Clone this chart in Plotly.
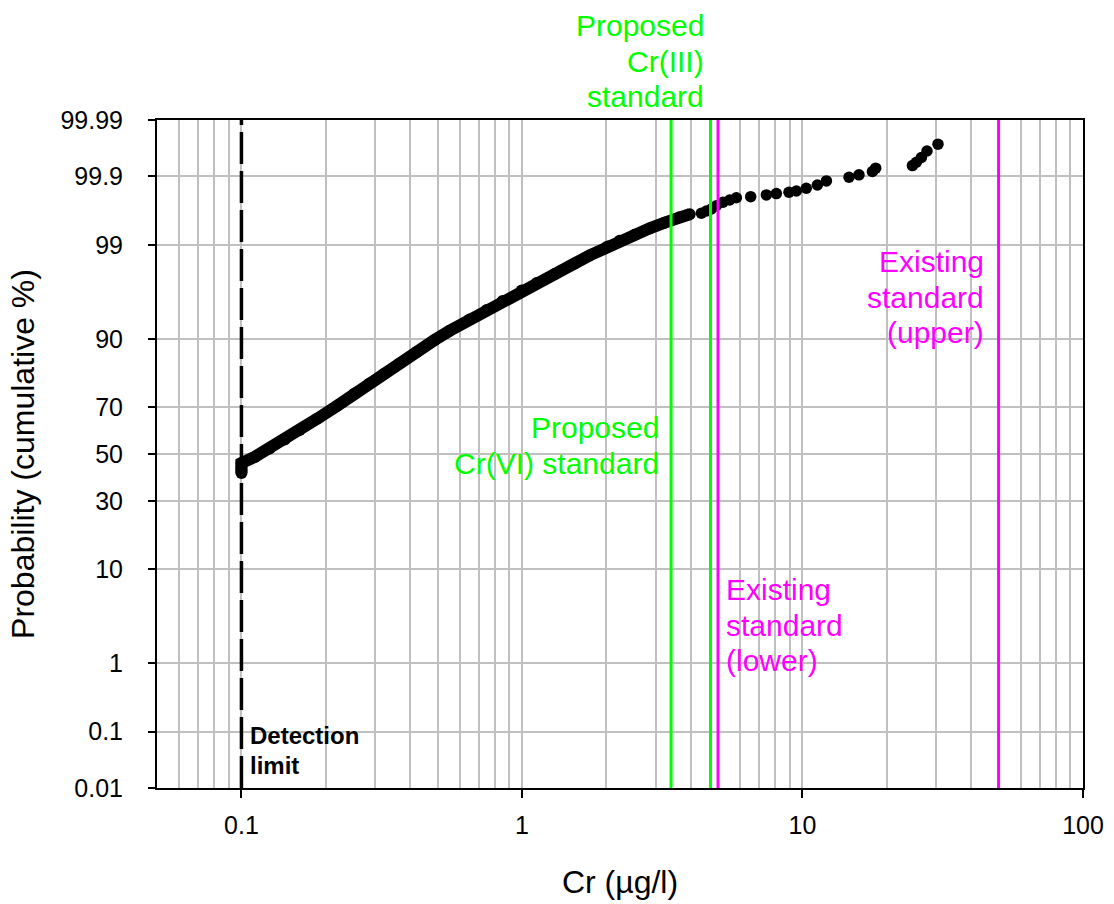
import math
from statistics import NormalDist
import plotly.graph_objects as go

_nd = NormalDist()


def probit(pct):
    """Cumulative percentage -> standard normal quantile (probability-paper scale)."""
    return _nd.inv_cdf(pct / 100.0)


# Chromium concentrations (µg/l) and cumulative probability (%) - continuous part of the record,
# starting with the stack of values reported at the detection limit
dense_cr = [0.1, 0.1, 0.1, 0.1, 0.1115, 0.126, 0.1426, 0.1612, 0.1869, 0.2185, 0.2533, 0.2865,
            0.324, 0.3664, 0.4213, 0.4884, 0.5524, 0.6512, 0.7484, 0.8535, 0.9975, 1.128, 1.308,
            1.542, 1.743, 2.021, 2.23, 2.522, 2.853, 3.227, 3.649, 3.962]
dense_pct = [41.6, 42.9, 44.2, 46.0, 48.7, 52.4, 56.4, 60.5, 65.4, 70.3, 75.0, 78.4,
             81.5, 84.3, 87.2, 89.8, 91.5, 93.3, 94.56, 95.58, 96.57, 97.16, 97.75,
             98.31, 98.65, 98.96, 99.12, 99.27, 99.40, 99.50, 99.58, 99.62]

# Upper tail: individual high results
tail_cr = [4.36, 4.544, 4.733, 4.932, 5.207, 5.502, 5.812, 6.537, 7.435, 8.07, 8.95, 9.51,
           10.32, 11.3, 12.17, 14.65, 15.9, 17.75, 18.24, 24.65, 25.47, 26.54, 27.79, 30.41]
tail_pct = [99.632, 99.659, 99.682, 99.715, 99.747, 99.766, 99.784, 99.792, 99.804, 99.813,
            99.822, 99.83, 99.846, 99.863, 99.882, 99.897, 99.906, 99.917, 99.927, 99.934,
            99.942, 99.952, 99.963, 99.972]

# Water-quality standards (µg/l)
detection_limit = 0.1
cr6_proposed = 3.4
cr3_proposed = 4.7
existing_lower = 5
existing_upper = 50

# Probability-paper tick marks
prob_ticks = [0.01, 0.1, 1, 10, 30, 50, 70, 90, 99, 99.9, 99.99]
prob_labels = ["0.01", "0.1", "1", "10", "30", "50", "70", "90", "99", "99.9", "99.99"]

x_major = [0.1, 1, 10, 100]
x_major_labels = ["0.1", "1", "10", "100"]
x_minor = [m * d for d in (0.01, 0.1, 1, 10) for m in range(2, 10) if 0.05 <= m * d < 100]

GREEN = "#00FF00"
MAGENTA = "#FF00FF"
GRID = "#C0C0C0"
FONT = "Liberation Sans, Arial, sans-serif"

y_lo, y_hi = probit(prob_ticks[0]), probit(prob_ticks[-1])

fig = go.Figure()

fig.add_trace(go.Scatter(
    x=dense_cr, y=[probit(p) for p in dense_pct],
    mode="lines+markers",
    line=dict(color="black", width=12),
    marker=dict(color="black", size=12),
    hoverinfo="x+text", text=[f"{p}%" for p in dense_pct],
    showlegend=False,
))
fig.add_trace(go.Scatter(
    x=tail_cr, y=[probit(p) for p in tail_pct],
    mode="markers",
    marker=dict(color="black", size=11.5),
    hoverinfo="x+text", text=[f"{p}%" for p in tail_pct],
    showlegend=False,
))

# Vertical reference lines
fig.add_trace(go.Scatter(
    x=[detection_limit, detection_limit], y=[y_lo, y_hi], mode="lines",
    line=dict(color="black", width=3.5, dash="32px,7px"), showlegend=False, hoverinfo="skip",
))
for val, col in [(cr6_proposed, GREEN), (cr3_proposed, GREEN),
                 (existing_lower, MAGENTA), (existing_upper, MAGENTA)]:
    fig.add_trace(go.Scatter(
        x=[val, val], y=[y_lo, y_hi], mode="lines",
        line=dict(color=col, width=3), showlegend=False, hoverinfo="skip",
    ))


def add_label(lines, x_val, y, yref, anchor, xshift, color, size=30, spacing=35.5,
              yshift=0.0, bold=False):
    """Multi-line label placed next to a vertical line, one annotation per text line."""
    n = len(lines)
    for i, line in enumerate(lines):
        txt = f"<b>{line}</b>" if bold else line
        fig.add_annotation(
            text=txt, x=math.log10(x_val), xref="x", y=y, yref=yref,
            xanchor=anchor, yanchor="middle", align=anchor,
            xshift=xshift, yshift=yshift + ((n - 1) / 2 - i) * spacing,
            showarrow=False, font=dict(family=FONT, size=size, color=color),
        )


add_label(["Proposed", "Cr(III)", "standard"], cr3_proposed, 1.0, "paper", "right", -5,
          GREEN, yshift=59)
add_label(["Proposed", "Cr(VI) standard"], cr6_proposed, 0.095, "y", "right", -10, GREEN)
add_label(["Existing", "standard", "(upper)"], existing_upper, 1.748, "y", "right", -13, MAGENTA)
add_label(["Existing", "standard", "(lower)"], existing_lower, -1.904, "y", "left", 6, MAGENTA)
add_label(["Detection", "limit"], detection_limit, -3.296, "y", "left", 7, "black",
          size=24, spacing=30, bold=True)

fig.update_layout(
    width=1114, height=904,
    margin=dict(l=157, r=31, t=120, b=116),
    paper_bgcolor="white", plot_bgcolor="white",
    font=dict(family=FONT, color="black"),
    showlegend=False,
)

fig.update_xaxes(
    type="log", range=[math.log10(0.05), 2], automargin=False,
    tickvals=x_major, ticktext=x_major_labels,
    tickfont=dict(size=25), ticks="outside", ticklen=8, tickwidth=2, tickcolor="black",
    ticklabelstandoff=6,
    showgrid=True, gridcolor=GRID, gridwidth=2,
    minor=dict(tickvals=x_minor, showgrid=True, gridcolor=GRID, gridwidth=2, ticks=""),
    showline=True, linecolor="black", linewidth=2, mirror=True,
    zeroline=False,
    title=dict(text="Cr (µg/l)", font=dict(size=32), standoff=33),
)
fig.update_yaxes(
    range=[y_lo, y_hi], automargin=False,
    tickvals=[probit(p) for p in prob_ticks], ticktext=prob_labels,
    tickfont=dict(size=25), ticks="outside", ticklen=7, tickwidth=2, tickcolor="black",
    ticklabelstandoff=20,
    showgrid=True, gridcolor=GRID, gridwidth=2,
    showline=True, linecolor="black", linewidth=2, mirror=True,
    zeroline=False,
    title=dict(text="Probability (cumulative %)", font=dict(size=32), standoff=16),
)

fig.write_html("out.html")
